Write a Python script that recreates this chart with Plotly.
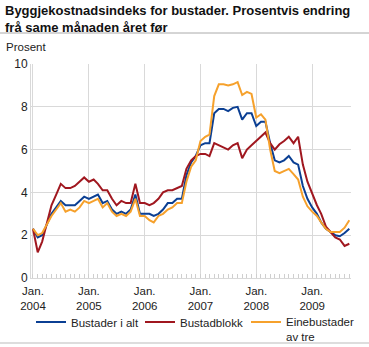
import plotly.graph_objects as go
import pandas as pd

months = pd.date_range("2004-01-01", "2009-09-01", freq="MS")

bustader_i_alt = [
    2.3, 1.9, 2.0, 2.5, 3.0, 3.3, 3.6, 3.4, 3.4, 3.4, 3.6, 3.8,
    3.7, 3.8, 3.9, 3.5, 3.6, 3.2, 3.0, 3.1, 3.0, 3.2, 3.9, 3.0,
    3.0, 3.0, 2.9, 3.0, 3.2, 3.5, 3.5, 3.7, 3.7, 4.8, 5.4, 5.7,
    6.2, 6.3, 6.3, 7.7, 7.9, 7.9, 7.8, 7.95, 8.0, 7.4, 7.7, 7.7,
    7.1, 7.3, 7.3, 6.3, 5.5, 5.4, 5.5, 5.7, 5.4, 5.3, 4.3, 3.7,
    3.3, 3.0, 2.6, 2.3, 2.15, 2.0, 1.95, 2.1, 2.3,
]
bustadblokk = [
    2.3, 1.2, 1.7, 2.6, 3.4, 3.9, 4.4, 4.2, 4.2, 4.3, 4.5, 4.7,
    4.5, 4.6, 4.4, 4.1, 4.1, 3.7, 3.4, 3.6, 3.5, 3.5, 4.4, 3.5,
    3.5, 3.4, 3.5, 3.7, 4.0, 4.1, 4.1, 4.2, 4.3, 5.1, 5.5, 5.7,
    5.8, 5.8, 5.7, 6.3, 6.2, 6.1, 6.0, 6.2, 6.3, 5.6, 6.0, 6.2,
    6.4, 6.6, 6.8, 6.3, 6.0, 6.25, 6.4, 6.6, 6.3, 6.6, 5.3, 4.5,
    3.9, 3.4, 3.0, 2.4, 2.15, 1.9, 1.8, 1.5, 1.6,
]
einebustader = [
    2.3, 2.0, 2.1, 2.5, 2.9, 3.2, 3.5, 3.1, 3.2, 3.1, 3.3, 3.6,
    3.5, 3.6, 3.7, 3.3, 3.5, 3.1, 2.9, 3.0, 2.9, 3.1, 3.7, 2.9,
    2.9, 2.7, 2.6, 2.9, 3.0, 3.2, 3.3, 3.5, 3.5, 4.5, 5.2, 5.5,
    6.4, 6.6, 6.7, 8.5, 9.05, 9.05, 9.0, 9.05, 9.15, 8.55, 8.7, 8.6,
    7.5, 7.65, 7.4, 6.0, 5.0, 4.9, 5.0, 5.1, 4.85, 4.6, 3.8, 3.35,
    3.1, 2.9, 2.6, 2.3, 2.15, 2.15, 2.15, 2.35, 2.7,
]

tick_vals = pd.date_range("2004-01-01", "2009-01-01", freq="YS")
tick_text = ["Jan.<br>%d" % d.year for d in tick_vals]
y_ticks = [0, 2, 4, 6, 8, 10]

series = [
    ("Bustader i alt", bustader_i_alt, "#0b3f93", "legend", 31),
    ("Bustadblokk", bustadblokk, "#a0171f", "legend2", 140),
    ("Einebustader<br>av tre", einebustader, "#f6a12c", "legend3", 246),
]

W, H = 369, 347
PW, PH = 320, 214
font = "Liberation Sans, Arial, sans-serif"

fig = go.Figure()
legends = {}
for name, vals, col, leg, lx in series:
    fig.add_trace(go.Scatter(x=months, y=vals, mode="lines", name=name,
                             line=dict(color=col, width=2), legend=leg))
    legends[leg] = dict(orientation="h", xref="container", yref="container",
                        x=lx / W, xanchor="left", y=1 - 308 / H, yanchor="top",
                        font=dict(size=11.5, color="#222", family=font),
                        itemwidth=30, valign="top", bgcolor="rgba(0,0,0,0)")

fig.update_layout(
    width=W, height=H,
    margin=dict(l=31, r=18, t=64, b=69, autoexpand=False),
    paper_bgcolor="white", plot_bgcolor="white",
    font=dict(family=font, size=11, color="#222"),
    showlegend=True,
    xaxis=dict(
        range=["2003-12-19", "2009-09-12"],
        tickvals=tick_vals, ticktext=tick_text,
        showgrid=True, gridcolor="#d9d9d9", gridwidth=1,
        ticks="", showline=True, linecolor="#d9d9d9",
        ticklabelstandoff=2,
        tickfont=dict(size=11.5, color="#222"),
        minor=dict(dtick="M1", tick0="2004-01-01", ticks="inside", ticklen=4,
                   tickcolor="#cfcfcf", showgrid=False),
    ),
    yaxis=dict(
        range=[0, 10], tickvals=y_ticks,
        showgrid=True, gridcolor="#d9d9d9", gridwidth=1,
        showline=True, linecolor="#d9d9d9", ticks="",
        tickfont=dict(size=12, color="#222"), zeroline=False,
    ),
    annotations=[
        dict(text="<b>Byggjekostnadsindeks for bustader. Prosentvis endring<br>frå same månaden året før</b>",
             xref="paper", yref="paper", x=-28/PW, y=1 + 63/PH, xanchor="left", yanchor="top",
             align="left", showarrow=False, font=dict(size=13, color="#111", family=font)),
        dict(text="Prosent", xref="paper", yref="paper", x=-27/PW, y=1 + 17/PH,
             xanchor="left", yanchor="middle", showarrow=False,
             font=dict(size=11.5, color="#222")),
    ],
    shapes=[
        dict(type="line", xref="paper", yref="paper", x0=-31/PW, x1=1 + 18/PW,
             y0=1 + 31/PH, y1=1 + 31/PH, line=dict(color="#aaaaaa", width=1)),
        dict(type="line", xref="paper", yref="paper", x0=-31/PW, x1=1 + 18/PW,
             y0=-65/PH, y1=-65/PH, line=dict(color="#bbbbbb", width=1)),
    ],
    **legends,
)

fig.write_html("out.html")
